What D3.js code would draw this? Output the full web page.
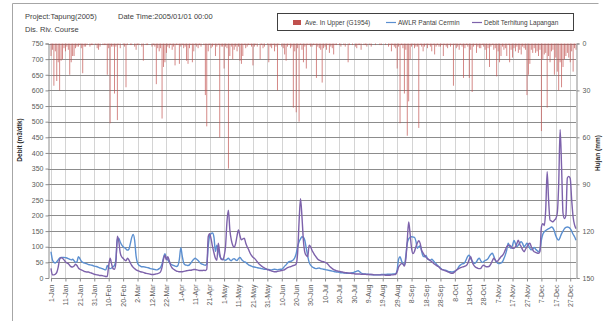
<!DOCTYPE html>
<html>
<head>
<meta charset="utf-8">
<script src="https://cdn.jsdelivr.net/npm/d3@7"></script>
<style>
  html, body { margin: 0; padding: 0; background: #fff; }
  svg { display: block; font-family: "Liberation Sans", Arial, sans-serif; }
</style>
</head>
<body>
<svg id="chart" width="608" height="322"></svg>
<script>
// daily rainfall, mm (Ave. In Upper G1954)
const rain = [
  8,4,27,5,24,12,30,11,10,3,  5,2,4,20,12,8,8,3,2,2,  1,3,19,2,2,1,0,2,1,1,
  0,1,3,4,2,0,1,1,1,20,  3,51,2,2,32,2,49,1,3,0,  1,2,28,1,0,1,1,0,2,4,
  1,1,0,2,11,0,1,1,0,0,  2,1,2,26,3,5,3,48,15,12,  6,2,3,1,4,2,14,1,1,13,
  2,1,3,2,11,13,3,1,12,5,  1,2,3,1,2,0,1,33,53,5,  1,3,2,1,8,2,1,60,2,2,
  16,2,3,80,8,2,10,4,2,5,  2,11,13,8,1,3,2,1,1,2,  14,2,1,2,0,10,1,3,2,0,
  1,12,2,3,1,5,2,30,1,0,  2,3,7,11,2,1,3,2,41,5,  44,3,50,1,4,12,2,16,1,1,
  2,2,1,1,22,2,3,4,25,3,  2,4,1,6,2,3,7,1,1,0,  1,2,0,1,2,0,12,1,0,1,
  0,2,3,1,1,4,0,1,1,2,  0,1,2,0,0,1,0,0,1,1,  0,0,1,0,2,1,5,1,2,3,
  16,2,51,1,3,32,4,59,37,10,  2,1,3,2,2,54,1,2,5,2,  1,3,1,2,5,1,7,2,1,2,
  2,1,8,1,2,3,1,2,1,27,  1,3,2,4,1,2,22,3,1,2,  22,4,31,2,1,6,2,3,3,1,
  2,4,10,3,15,2,1,4,3,21,  5,12,8,2,4,3,8,1,12,4,  9,3,5,2,6,4,7,2,3,4,
  33,20,13,4,6,3,6,5,8,4,  56,10,7,6,41,8,12,5,4,20,  9,18,30,12,28,15,10,8,6,9,
  12,5,18,3,4
];

// AWLR Pantai Cermin, m3/dtk
const awlr = [
  84,58,50,48,52,58,64,66,66,66,  65,64,62,60,58,60,55,50,52,68,  62,54,50,48,47,45,43,42,41,40,
  38,37,36,34,32,31,29,27,26,40,  33,30,32,36,40,60,122,127,115,106,  100,97,93,89,92,110,130,139,120,70,
  48,41,38,36,36,35,34,33,32,30,  29,28,27,26,27,30,34,45,65,78,  62,58,50,45,42,40,38,37,40,60,
  97,70,48,42,41,40,42,48,55,60,  63,60,56,50,46,44,42,41,45,100,  135,142,144,130,85,105,90,70,62,60,
  58,57,60,63,58,55,60,62,58,56,  62,66,60,55,52,50,46,42,40,38,  36,35,34,33,32,31,30,29,28,28,
  27,27,26,26,27,28,27,26,27,28,  28,32,38,42,48,52,53,55,58,65,  78,100,116,125,132,130,120,95,70,50,
  41,36,33,31,30,31,32,30,29,28,  27,26,25,24,23,22,21,20,19,19,  18,17,17,16,16,15,15,15,16,17,
  18,20,22,23,20,16,14,13,13,12,  12,11,11,10,10,10,10,10,10,11,  11,11,11,12,12,12,12,13,13,14,
  26,60,68,55,45,42,70,111,125,130,  132,131,130,118,95,100,103,85,70,68,  72,62,58,57,60,56,50,46,40,36,
  32,28,26,25,24,22,20,20,19,20,  22,25,30,38,42,45,46,50,60,70,  73,62,55,48,47,52,60,63,55,50,
  52,56,58,62,70,76,79,70,58,50,  47,46,48,52,62,74,90,111,100,95,  105,120,110,100,105,112,116,110,100,105,
  111,105,95,90,92,98,92,88,84,90,  121,140,148,152,155,158,160,163,160,150,  135,125,121,130,142,150,158,162,163,162,
  158,150,140,132,121
];

// Debit Terhitung Lapangan, m3/dtk
const debit = [
  31,10,10,12,18,35,60,65,63,58,  52,48,46,40,36,35,38,44,40,32,  28,26,24,21,20,19,19,17,16,14,
  12,11,10,9,8,8,7,6,5,5,  40,63,45,30,28,50,134,117,80,68,  63,58,55,63,58,48,40,34,30,26,
  24,22,20,19,18,16,15,14,13,12,  11,11,12,13,14,16,20,35,60,73,  58,68,55,40,32,28,25,22,21,20,
  20,20,21,22,23,24,25,25,26,27,  27,26,25,24,24,24,25,24,28,132,  142,125,100,80,63,57,111,78,60,58,
  70,100,180,217,154,122,105,98,110,135,  154,135,122,125,127,112,100,91,80,72,  66,63,58,52,46,42,38,35,32,30,
  27,26,24,22,21,20,20,21,22,23,  24,25,27,30,33,35,36,38,40,41,  45,80,180,254,196,120,82,72,68,105,
  100,88,80,72,66,60,57,55,53,52,  50,48,44,38,34,30,27,25,23,22,  21,20,19,18,17,17,16,15,15,14,
  14,13,13,13,13,12,12,12,12,11,  11,11,11,11,10,10,10,10,10,10,  10,10,9,9,9,9,10,10,11,12,
  20,35,42,46,45,38,60,120,179,140,  95,78,85,100,112,119,110,88,80,72,  66,62,59,55,52,48,44,41,38,35,
  30,27,26,24,22,20,18,16,15,16,  20,25,28,31,33,35,36,38,40,47,  60,68,52,42,36,33,31,30,31,38,
  41,38,36,36,38,45,55,63,58,52,  56,62,68,72,79,90,100,104,105,100,  95,95,100,110,121,108,100,90,84,92,
  100,108,111,100,90,84,82,80,79,85,  163,174,168,218,340,250,185,182,180,185,  190,207,300,475,355,207,190,200,320,325,
  318,250,195,170,158
];

const debitTicks = [0,50,100,150,200,250,300,350,400,450,500,550,600,650,700,750];
const rainTicks = [0,30,60,90,120,150];
const legendNames = ["Ave. In Upper (G1954)", "AWLR Pantai Cermin", "Debit Terhitung Lapangan"];

const colRain = "#c0504d", colAwlr = "#5b8fd0", colDebit = "#7d62ab";

const svg = d3.select("#chart");
const start = new Date(Date.UTC(2005, 0, 1));
const day = i => d3.utcDay.offset(start, i);

const plotL = 51, plotR = 576, plotT = 43.5, plotB = 278;
const x = d3.scaleUtc().domain([start, day(364)]).range([plotL, plotR]);
const y = d3.scaleLinear().domain([0, 750]).range([plotB, plotT]);
const yR = d3.scaleLinear().domain([0, 150]).range([plotT, plotB]);

// frame
svg.append("path")
  .attr("d", "M12.5,321V3.5H598.5")
  .attr("fill", "none").attr("stroke", "#a6a6a6");

// header
const head = svg.append("g").attr("font-size", 7.5).attr("fill", "#404040");
head.append("text").attr("x", 25).attr("y", 19).text("Project:Tapung(2005)");
head.append("text").attr("x", 25).attr("y", 32).text("Dis. Riv. Course");
head.append("text").attr("x", 118).attr("y", 19).text("Date Time:2005/01/01 00:00");

// gridlines
const xTicks = d3.range(0, 361, 10).map(day);
svg.append("g").selectAll("line").data(xTicks).join("line")
  .attr("x1", d => Math.round(x(d)) + 0.5).attr("x2", d => Math.round(x(d)) + 0.5)
  .attr("y1", plotT).attr("y2", plotB)
  .attr("stroke", "#d4d4d4").attr("stroke-width", 1);
svg.append("g").selectAll("line").data(debitTicks.slice(1)).join("line")
  .attr("x1", plotL - 3).attr("x2", plotR)
  .attr("y1", d => Math.round(y(d)) + 0.5).attr("y2", d => Math.round(y(d)) + 0.5)
  .attr("stroke", "#8c8c8c").attr("stroke-width", 1);

// rainfall bars hanging from the top
svg.append("g").selectAll("rect").data(rain.map((v, i) => [day(i), v]).filter(d => d[1] > 0)).join("rect")
  .attr("x", d => x(d[0]) - 0.45).attr("width", 0.9)
  .attr("y", yR(0)).attr("height", d => yR(d[1]) - yR(0))
  .attr("fill", colRain).attr("opacity", 0.75);

// lines
const line = d3.line().x((v, i) => x(day(i))).y(v => y(v)).curve(d3.curveMonotoneX);
svg.append("path").datum(awlr).attr("d", line)
  .attr("fill", "none").attr("stroke", colAwlr).attr("stroke-width", 1.4);
svg.append("path").datum(debit).attr("d", line)
  .attr("fill", "none").attr("stroke", colDebit).attr("stroke-width", 1.4);

// axes
const axL = svg.append("g").attr("transform", `translate(${plotL - 2.5},0)`)
  .call(d3.axisLeft(y).tickValues(debitTicks).tickSize(3).tickPadding(2));
const axR = svg.append("g").attr("transform", `translate(${plotR + 0.5},0)`)
  .call(d3.axisRight(yR).tickValues(rainTicks).tickSize(3).tickPadding(3));
const axB = svg.append("g").attr("transform", `translate(0,${plotB + 0.5})`)
  .call(d3.axisBottom(x).tickValues(xTicks).tickSize(3).tickFormat(d3.utcFormat("%-d-%b")));
axB.selectAll("text")
  .attr("transform", "rotate(-90)")
  .attr("text-anchor", "end")
  .attr("x", -6).attr("y", 0).attr("dy", "0.32em");
[axL, axR, axB].forEach(a => {
  a.attr("font-size", 7).attr("font-family", null);
  a.selectAll("text").attr("fill", "#595959");
  a.selectAll("line, path").attr("stroke", "#8c8c8c");
});
axB.select(".domain").attr("d", `M${plotL},0H${plotR}`);

// axis titles
svg.append("text").attr("transform", "translate(22,140) rotate(-90)")
  .attr("text-anchor", "middle").attr("font-size", 6.5).attr("font-weight", "bold")
  .attr("fill", "#262626").text("Debit (m3/dtk)");
svg.append("text").attr("transform", "translate(600,153) rotate(-90)")
  .attr("text-anchor", "middle").attr("font-size", 6.5).attr("font-weight", "bold")
  .attr("fill", "#262626").text("Hujan (mm)");

// legend
const lg = svg.append("g").attr("font-size", 6.5).attr("fill", "#404040");
lg.append("rect").attr("x", 277.5).attr("y", 13.5).attr("width", 296).attr("height", 17)
  .attr("fill", "#fff").attr("stroke", "#404040");
lg.append("rect").attr("x", 293).attr("y", 20).attr("width", 8).attr("height", 5).attr("fill", colRain);
lg.append("text").attr("x", 305).attr("y", 25).text(legendNames[0]);
lg.append("line").attr("x1", 386).attr("x2", 396).attr("y1", 22.5).attr("y2", 22.5)
  .attr("stroke", colAwlr).attr("stroke-width", 1.2);
lg.append("text").attr("x", 398).attr("y", 25).text(legendNames[1]);
lg.append("line").attr("x1", 472).attr("x2", 482).attr("y1", 22.5).attr("y2", 22.5)
  .attr("stroke", colDebit).attr("stroke-width", 1.2);
lg.append("text").attr("x", 484).attr("y", 25).text(legendNames[2]);
</script>
</body>
</html>
